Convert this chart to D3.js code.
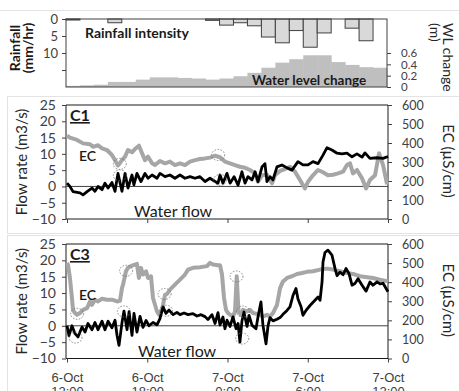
<!DOCTYPE html>
<html>
<head>
<meta charset="utf-8">
<script src="https://cdn.jsdelivr.net/npm/d3@7"></script>
<style>
  body { margin: 0; background: #fff; }
  svg { display: block; font-family: Lato, "Open Sans", sans-serif; }
</style>
</head>
<body>
<div id="chart"></div>
<script>
// hours after 6-Oct 12:00
const xTicks = [0, 6, 12, 18, 24];
const xTickLabels = [["6-Oct", "12:00"], ["6-Oct", "18:00"], ["7-Oct", "0:00"], ["7-Oct", "6:00"], ["7-Oct", "12:00"]];

// hourly bins for the top panel
const rainfall = [0.3, 0, 0, 1.1, 0, 0, 0, 0, 0, 0, 0.4, 1.8, 1.1, 2.0, 5.3, 7.0, 3.4, 8.3, 4.1, 0, 2.7, 6.4, 0];
const waterLevel = [0.02, 0.03, 0.04, 0.09, 0.09, 0.13, 0.17, 0.17, 0.16, 0.15, 0.13, 0.15, 0.19, 0.25, 0.34, 0.43, 0.49, 0.56, 0.56, 0.44, 0.39, 0.35, 0.34];

// C1
const c1FlowTime = [0, 0.22, 0.45, 0.97, 1.2, 1.5, 1.87, 2.09, 2.32, 2.62, 2.84, 3.07, 3.36, 3.59, 3.81, 4.11, 4.34, 4.56, 4.86, 5.0, 5.23, 5.53, 5.83, 6.06, 6.36, 6.73, 6.95, 7.33, 7.7, 8.07, 8.45, 8.82, 9.2, 9.57, 9.94, 10.32, 10.69, 11.07, 11.29, 11.44, 11.66, 11.96, 12.19, 12.49, 12.79, 13.08, 13.31, 13.53, 13.83, 14.06, 14.28, 14.58, 14.8, 14.95, 15.18, 15.4, 15.7, 16.07, 16.45, 16.82, 17.27, 17.64, 18.02, 18.39, 18.77, 19.14, 19.44, 19.81, 20.19, 20.56, 20.93, 21.31, 21.68, 22.06, 22.28, 22.65, 23.18, 23.63, 24];
const c1Flow = [1.0, 0, -1.6, -2.0, -2.6, -1.6, -0.5, -1.5, 0, -1, 1, -0.5, 1.2, -1.5, 4, -1.5, 4, -0.5, 3.5, 0.5, 4, 1.5, 4, 2.5, 3.5, 2.5, 4, 3, 3.5, 2.5, 3.5, 2.5, 3, 2.5, 3, 1.5, 2.5, 1.5, 1, 3.5, 1, 4, 1, 3, 0.4, 4.5, 1, 3, 2, 4.5, 1.5, 6, 7, 1.5, 3, 2, 6, 6.6, 5.7, 5, 7.6, 6.6, 6.6, 7.6, 7, 9.6, 11.9, 11.2, 10.2, 10, 10.2, 9.1, 10, 9, 10.3, 8.6, 8.8, 8.6, 9.2];
const c1EcTime = [0, 0.22, 0.75, 1.2, 1.72, 1.94, 2.32, 2.62, 2.99, 3.36, 3.59, 3.81, 4.11, 4.34, 4.56, 4.86, 5.08, 5.38, 5.61, 5.83, 6.06, 6.36, 6.58, 6.95, 7.33, 7.7, 8.07, 8.45, 8.82, 9.2, 9.57, 9.94, 10.32, 10.69, 11.07, 11.44, 11.81, 12.19, 12.56, 12.93, 13.31, 13.68, 14.06, 14.28, 14.58, 14.95, 15.33, 15.55, 15.93, 16.3, 16.67, 17.05, 17.42, 17.79, 18.02, 18.39, 18.77, 19.14, 19.51, 19.89, 20.26, 20.64, 20.93, 21.16, 21.38, 21.68, 22.06, 22.36, 22.65, 23.03, 23.33, 23.63, 23.93];
const c1Ec = [438, 428, 416, 398, 393, 380, 388, 372, 363, 337, 310, 281, 310, 328, 363, 351, 368, 386, 346, 310, 328, 293, 284, 305, 293, 302, 284, 293, 284, 302, 310, 316, 319, 323, 333, 325, 302, 293, 284, 275, 270, 258, 240, 196, 230, 233, 188, 230, 253, 263, 275, 249, 205, 161, 196, 230, 258, 246, 230, 233, 240, 249, 284, 293, 240, 258, 214, 161, 205, 230, 346, 284, 183];

// C3
const c3FlowTime = [0, 0.15, 0.37, 0.6, 0.82, 1.12, 1.35, 1.57, 1.87, 2.09, 2.32, 2.62, 2.84, 3.07, 3.36, 3.59, 3.74, 3.89, 4.11, 4.26, 4.49, 4.64, 4.86, 5.01, 5.23, 5.46, 5.68, 5.91, 6.13, 6.43, 6.73, 6.95, 7.18, 7.4, 7.63, 7.93, 8.22, 8.45, 8.75, 9.05, 9.42, 9.72, 10.02, 10.32, 10.54, 10.84, 11.07, 11.29, 11.44, 11.66, 11.81, 11.96, 12.19, 12.41, 12.64, 12.79, 12.93, 13.08, 13.23, 13.46, 13.61, 13.83, 14.13, 14.28, 14.5, 14.65, 14.88, 15.03, 15.18, 15.4, 15.7, 15.93, 16.15, 16.45, 16.67, 16.9, 17.12, 17.27, 17.5, 17.64, 17.87, 18.17, 18.54, 18.77, 18.92, 19.07, 19.14, 19.29, 19.51, 19.81, 20.04, 20.19, 20.41, 20.64, 20.86, 21.08, 21.31, 21.53, 21.76, 22.06, 22.36, 22.65, 22.88, 23.18, 23.4, 23.63, 24];
const c3Flow = [0, -3, 0, -2.4, -3.4, -0.4, -1.9, 0.7, -1.2, 1, -1.2, 1.4, -1.2, 1.4, -0.6, 1.7, -2.9, -6, 0.9, 4.5, -1.2, 4.3, -2.9, 3.8, -1.9, 2.9, -0.5, 1.6, 0, 1, 0.3, 2.2, 5.8, 3.8, 4.8, 3.4, 4.1, 3.4, 3.9, 3.4, 3.7, 3, 3.4, 2.8, 1.9, 3.4, 0.7, 4, 0.2, 2.7, -0.9, 1.7, -0.2, 2.7, -0.9, 0.7, -5, 1.4, 4.2, -0.2, 3.2, 0.2, -0.9, 2.7, 7.3, 0.2, -5.5, 0, 2.5, 1.5, 2, 2.5, 3.5, 4.7, 5.8, 9.3, 11.4, 8.2, 5.8, 3.2, 4.7, 6.2, 7.8, 8.8, 7.8, 13.4, 19.5, 22.4, 23.1, 21.6, 17.5, 15.3, 16.4, 15.6, 17.5, 16, 12.4, 12.9, 14.4, 12.4, 10.6, 13.4, 12.4, 13.4, 12.8, 13, 10.4];
const c3EcTime = [0, 0.07, 0.22, 0.37, 0.45, 0.6, 0.75, 0.97, 1.2, 1.5, 1.72, 1.87, 2.09, 2.32, 2.62, 2.99, 3.36, 3.74, 3.96, 4.11, 4.19, 4.41, 4.56, 4.86, 5.08, 5.23, 5.38, 5.53, 5.68, 5.91, 6.06, 6.28, 6.43, 6.73, 6.88, 7.1, 7.33, 7.48, 7.7, 8.07, 8.45, 8.82, 9.05, 9.42, 9.94, 10.47, 10.69, 10.92, 11.29, 11.44, 11.59, 11.74, 11.89, 12.04, 12.19, 12.41, 12.56, 12.69, 12.82, 13.01, 13.16, 13.46, 13.68, 13.91, 14.21, 14.43, 14.65, 14.95, 15.18, 15.4, 15.7, 15.93, 16.15, 16.45, 16.82, 17.2, 17.57, 17.94, 18.39, 18.92, 19.44, 19.89, 20.41, 20.93, 21.38, 21.91, 22.43, 22.88, 23.4, 24];
const c3Ec = [501, 492, 422, 317, 255, 238, 229, 238, 255, 264, 299, 281, 308, 299, 313, 308, 308, 299, 302, 369, 387, 457, 475, 487, 492, 496, 422, 475, 440, 457, 422, 431, 317, 246, 229, 255, 334, 338, 361, 387, 413, 440, 466, 475, 478, 484, 501, 492, 489, 489, 440, 317, 255, 238, 229, 220, 246, 431, 246, 229, 255, 246, 255, 238, 234, 229, 220, 229, 220, 238, 281, 369, 404, 422, 431, 443, 448, 454, 457, 466, 471, 466, 457, 448, 443, 431, 426, 422, 413, 404];

// circled points: [hour, value, series]
const c1Marks = [[3.95, 290, "ec"], [3.95, 3.4, "flow"], [11.3, 337, "ec"], [11.45, 2.0, "flow"]];
const c3Marks = [[0.76, 234, "ec"], [0.64, -3.6, "flow"], [4.42, 460, "ec"], [4.25, 4.4, "flow"], [7.3, 338, "ec"], [7.4, 4.6, "flow"], [12.67, 430, "ec"], [13.15, 246, "ec"], [13.1, -3.9, "flow"]];

const W = 459, H = 391;
const svg = d3.select("#chart").append("svg").attr("width", W).attr("height", H);

const axisColor = "#404040";
const textColor = "#404040";

// faint chart-area frames
svg.append("line").attr("x1", 0).attr("x2", W).attr("y1", 10.5).attr("y2", 10.5).attr("stroke", "#e3e3e3");
svg.append("rect").attr("x", 7.5).attr("y", 96.5).attr("width", W).attr("height", 137).attr("fill", "none").attr("stroke", "#e3e3e3");
svg.append("rect").attr("x", 7.5).attr("y", 235.5).attr("width", W).attr("height", 200).attr("fill", "none").attr("stroke", "#e3e3e3");

const x = d3.scaleLinear().domain([0, 24]).range([67, 388]);

function styleAxis(g) {
  g.select(".domain").remove();
  g.selectAll(".tick line").attr("stroke", axisColor);
  g.selectAll(".tick text").attr("fill", textColor).attr("font-family", "Lato, sans-serif");
}

// ---------- top panel: rainfall + water level ----------
const topT = 19, topB = 87, left = 66, right = 387;
const xb = d3.scaleBand().domain(d3.range(rainfall.length)).range([left, right]);
const rainY = d3.scaleLinear().domain([0, 20]).range([topT, topB]);
const wlY = d3.scaleLinear().domain([0, 1.2]).range([topB, topT]);

svg.append("g").selectAll("rect").data(waterLevel).join("rect")
  .attr("x", (d, i) => xb(i))
  .attr("width", xb.bandwidth() + 0.5)
  .attr("y", d => wlY(d))
  .attr("height", d => topB - wlY(d))
  .attr("fill", "#bfbfbf");

svg.append("g").selectAll("rect").data(rainfall).join("rect")
  .attr("x", (d, i) => xb(i))
  .attr("width", xb.bandwidth())
  .attr("y", topT)
  .attr("height", d => rainY(d) - topT)
  .attr("fill", "#d9d9d9")
  .attr("stroke", d => d > 0 ? "#404040" : "none")
  .attr("stroke-width", 1);

svg.append("rect").attr("x", left).attr("y", topT).attr("width", right - left).attr("height", topB - topT)
  .attr("fill", "none").attr("stroke", "#404040").attr("stroke-width", 1);

svg.append("g").attr("transform", `translate(${left},0)`)
  .call(d3.axisLeft(rainY).tickValues([0, 5, 10, 15]).tickFormat(d => d < 15 ? d : "").tickSize(4).tickPadding(4))
  .call(styleAxis).selectAll("text").attr("font-size", 13);

svg.append("g").attr("transform", `translate(${right},0)`)
  .call(d3.axisRight(wlY).tickValues([0, 0.2, 0.4, 0.6]).tickFormat(d => d === 0 ? "0" : d3.format(".1f")(d)).tickSize(4).tickPadding(10))
  .call(styleAxis).selectAll("text").attr("font-size", 11.5).attr("dy", "0.34em");

svg.append("text").attr("x", 85).attr("y", 38).attr("font-size", 14).attr("font-weight", 700).attr("fill", "#1a1a1a").text("Rainfall intensity");
svg.append("text").attr("x", 252).attr("y", 85).attr("font-size", 13.5).attr("font-weight", 700).attr("fill", "#1a1a1a").text("Water level change");

const rt = svg.append("text").attr("transform", "translate(20,48) rotate(-90)")
  .attr("text-anchor", "middle").attr("font-size", 14).attr("font-weight", 700).attr("fill", "#1a1a1a");
rt.append("tspan").attr("x", 0).attr("y", 0).text("Rainfall");
rt.append("tspan").attr("x", 0).attr("y", 13).text("(mm/hr)");

const wt = svg.append("text").attr("transform", "translate(443,23) rotate(90)")
  .attr("text-anchor", "start").attr("font-size", 14).attr("fill", "#262626");
wt.append("tspan").attr("x", 0).attr("y", 0).text("WL change");
wt.append("tspan").attr("x", 0).attr("y", 13).text("(m)");

// ---------- time-series panels ----------
function drawPanel(opt) {
  const { top, bottom, name, flowT, flow, ecT, ec, marks, labels } = opt;
  const flowY = d3.scaleLinear().domain([-10, 25]).range([bottom, top]);
  const ecY = d3.scaleLinear().domain([0, 600]).range([bottom, top]);
  const g = svg.append("g");

  // frame
  g.append("line").attr("x1", left).attr("x2", 388).attr("y1", top).attr("y2", top).attr("stroke", "#1a1a1a");
  g.append("line").attr("x1", left).attr("x2", left).attr("y1", top).attr("y2", bottom).attr("stroke", "#1a1a1a");
  g.append("line").attr("x1", 388).attr("x2", 388).attr("y1", top).attr("y2", bottom).attr("stroke", "#1a1a1a");
  g.append("line").attr("x1", left).attr("x2", 388).attr("y1", bottom).attr("y2", bottom).attr("stroke", "#1a1a1a");
  // zero flow line
  g.append("line").attr("x1", left).attr("x2", 388).attr("y1", flowY(0)).attr("y2", flowY(0)).attr("stroke", "#404040");

  g.append("g").attr("transform", `translate(${left},0)`)
    .call(d3.axisLeft(flowY).tickValues(d3.range(-10, 26, 5)).tickSize(4).tickPadding(6))
    .call(styleAxis).selectAll("text").attr("font-size", 14);

  g.append("g").attr("transform", "translate(388,0)")
    .call(d3.axisRight(ecY).tickValues(d3.range(0, 601, 100)).tickSize(4).tickPadding(10))
    .call(styleAxis).selectAll("text").attr("font-size", 12.5);

  const xa = g.append("g").attr("transform", `translate(0,${bottom})`)
    .call(d3.axisBottom(x).tickValues(xTicks).tickSize(4).tickFormat(""))
    .call(styleAxis);
  if (labels) {
    xa.selectAll(".tick").append("text")
      .attr("text-anchor", "middle").attr("fill", textColor).attr("font-size", 13)
      .each(function (d, i) {
        const t = d3.select(this);
        t.append("tspan").attr("x", 0).attr("y", 23).text(xTickLabels[i][0]);
        t.append("tspan").attr("x", 0).attr("y", 37).text(xTickLabels[i][1]);
      });
  }

  const ecLine = d3.line().x((d, i) => x(ecT[i])).y(d => ecY(d));
  const flowLine = d3.line().x((d, i) => x(flowT[i])).y(d => flowY(d));
  g.append("path").datum(ec).attr("d", ecLine).attr("fill", "none")
    .attr("stroke", "#a6a6a6").attr("stroke-width", 4).attr("stroke-linejoin", "round");
  g.append("path").datum(flow).attr("d", flowLine).attr("fill", "none")
    .attr("stroke", "#000").attr("stroke-width", 2.8).attr("stroke-linejoin", "round");

  g.selectAll("ellipse").data(marks).join("ellipse")
    .attr("cx", d => x(d[0]))
    .attr("cy", d => d[2] === "ec" ? ecY(d[1]) : flowY(d[1]))
    .attr("rx", 6.5).attr("ry", 5.5)
    .attr("fill", "none").attr("stroke", "#6e6e6e").attr("stroke-width", 0.8)
    .attr("stroke-dasharray", "1.5,1.5");

  // labels
  g.append("text").attr("x", 70).attr("y", top + 16).attr("font-size", 16).attr("font-weight", 700)
    .attr("fill", "#1a1a1a").attr("text-decoration", "underline").text(name);
  g.append("text").attr("x", 79).attr("y", top + 56).attr("font-size", 14).attr("font-weight", 600)
    .attr("fill", "#1a1a1a").text("EC");
  g.append("text").attr("x", opt.wfX).attr("y", bottom - 2).attr("font-size", 16)
    .attr("fill", "#1a1a1a").text("Water flow");

  const mid = (top + bottom) / 2;
  g.append("text").attr("transform", `translate(27,${mid}) rotate(-90)`).attr("text-anchor", "middle")
    .attr("font-size", 15).attr("fill", "#262626").text("Flow rate (m3/s)");
  g.append("text").attr("transform", `translate(443,${mid - 1}) rotate(90)`).attr("text-anchor", "middle")
    .attr("font-size", 15).attr("fill", "#262626").text("EC (µS/cm)");
}

drawPanel({ top: 105, bottom: 219, name: "C1", flowT: c1FlowTime, flow: c1Flow, ecT: c1EcTime, ec: c1Ec, marks: c1Marks, labels: false, wfX: 134 });
drawPanel({ top: 244, bottom: 358.5, name: "C3", flowT: c3FlowTime, flow: c3Flow, ecT: c3EcTime, ec: c3Ec, marks: c3Marks, labels: true, wfX: 138 });
</script>
</body>
</html>
